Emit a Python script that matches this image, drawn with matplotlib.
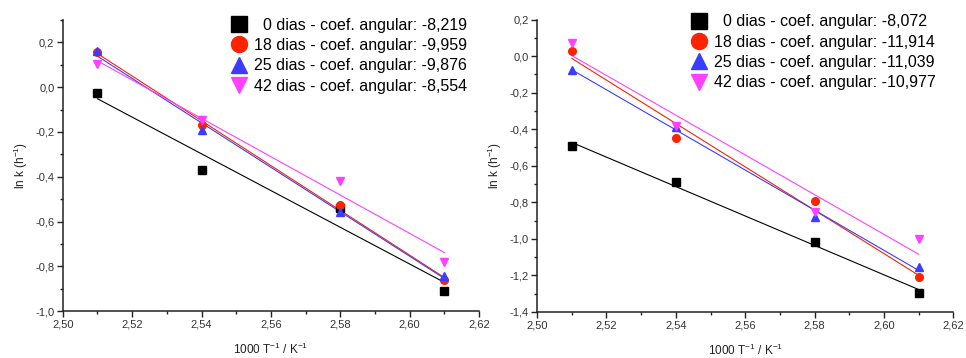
import numpy as np
import matplotlib
matplotlib.use('Agg')
import matplotlib.pyplot as plt
from matplotlib.ticker import FuncFormatter, MultipleLocator

plt.rcParams['font.family'] = ['Liberation Sans', 'DejaVu Sans']
plt.rcParams['mathtext.fontset'] = 'custom'
plt.rcParams['mathtext.rm'] = 'Liberation Sans'
plt.rcParams['mathtext.it'] = 'Liberation Sans:italic'

x = [2.51, 2.54, 2.58, 2.61]
dias = ['  0', '18', '25', '42']

# left panel: ln k per storage day
left_0 = [-0.026, -0.371, -0.540, -0.910]
left_18 = [0.157, -0.170, -0.528, -0.860]
left_25 = [0.160, -0.190, -0.557, -0.845]
left_42 = [0.105, -0.148, -0.419, -0.780]
left_slopes = ['-8,219', '-9,959', '-9,876', '-8,554']

# right panel
right_0 = [-0.494, -0.691, -1.018, -1.298]
right_18 = [0.030, -0.450, -0.795, -1.210]
right_25 = [-0.074, -0.388, -0.881, -1.152]
right_42 = [0.072, -0.381, -0.852, -1.002]
right_slopes = ['-8,072', '-11,914', '-11,039', '-10,977']

colors = ['black', '#ff2200', '#3c3cff', '#ff40ff']
markers = ['s', 'o', '^', 'v']


def draw_panel(ax, series, slopes, ylim, ystep, anchor):
    xs = np.array(x)
    for y, c, m, d, s in zip(series, colors, markers, dias, slopes):
        k, b = np.polyfit(xs, y, 1)
        ax.plot(xs, y, ls='none', marker=m, ms=5.5, color=c, mec=c,
                label=f'{d} dias - coef. angular: {s}', zorder=3)
        ax.plot([xs[0], xs[-1]], [k * xs[0] + b, k * xs[-1] + b],
                color=c, lw=0.8, zorder=2)
    ax.set_xlim(2.50, 2.62)
    ax.set_ylim(*ylim)
    ax.xaxis.set_major_locator(MultipleLocator(0.02))
    ax.xaxis.set_minor_locator(MultipleLocator(0.01))
    ax.yaxis.set_major_locator(MultipleLocator(ystep))
    ax.yaxis.set_minor_locator(MultipleLocator(ystep / 2))
    ax.xaxis.set_major_formatter(FuncFormatter(lambda v, p: f'{v:.2f}'.replace('.', ',')))
    ax.yaxis.set_major_formatter(FuncFormatter(lambda v, p: f'{v:.1f}'.replace('.', ',').replace('-0,0', '0,0')))
    for sp in ['top', 'right']:
        ax.spines[sp].set_visible(False)
    for sp in ['left', 'bottom']:
        ax.spines[sp].set_linewidth(1.1)
        ax.spines[sp].set_color('#222222')
    ax.tick_params(which='major', direction='out', length=4, width=1, labelsize=8,
                   colors='#222222', labelcolor='#333333', pad=2)
    ax.tick_params(which='minor', direction='out', length=2.5, width=1, colors='#222222')
    ax.set_xlabel('1000 T$^{-1}$ / K$^{-1}$', fontsize=8.5, color='#222222', labelpad=9)
    ax.set_ylabel('ln k (h$^{-1}$)', fontsize=8.5, color='#222222', labelpad=4)
    ax.legend(loc='upper right', bbox_to_anchor=anchor, frameon=False, fontsize=11.5,
              markerscale=2.1, handlelength=1.0, handletextpad=0.45, labelspacing=0.33,
              borderaxespad=0.0)


fig = plt.figure(figsize=(9.66, 3.58), dpi=100)
ax1 = fig.add_axes([0.065, 0.131, 0.431, 0.813])
ax2 = fig.add_axes([0.556, 0.129, 0.431, 0.816])

draw_panel(ax1, [left_0, left_18, left_25, left_42], left_slopes, (-1.0, 0.3), 0.2, (0.986, 1.03))
draw_panel(ax2, [right_0, right_18, right_25, right_42], right_slopes, (-1.4, 0.2), 0.2, (0.974, 1.04))

fig.savefig('out.png', dpi=100)
